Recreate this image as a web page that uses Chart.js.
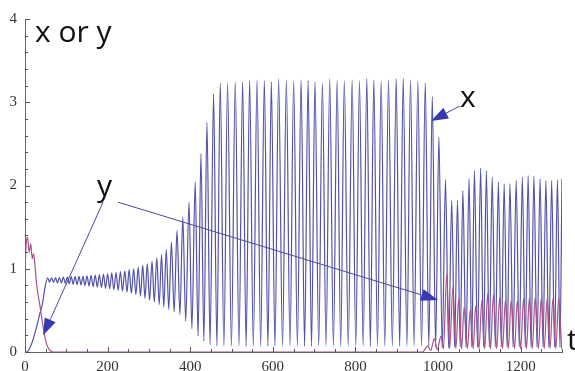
<!DOCTYPE html>
<html lang="en">
<head>
<meta charset="utf-8">
<title>x or y</title>
<script src="https://cdn.jsdelivr.net/npm/chart.js@4.4.1/dist/chart.umd.min.js"></script>
<style>
    html, body { margin: 0; padding: 0; background: #fff; }
    canvas { display: block; }
</style>
</head>
<body>
<canvas id="grafico" width="575" height="371"></canvas>
<script>
// Série x: instantes e valores dos picos e vales
const xTimes = [
    0, 4, 16, 28, 36, 43, 48.5,
    55, 59.5, 64.5, 69, 74, 78.5, 83.5, 88, 93, 97.5,
    102.5, 107, 112, 116.5, 121.5, 126, 131, 135.5, 140.5, 145,
    150, 155, 160, 165, 170, 175, 180, 185, 190, 195,
    200, 205, 210, 215, 220.5, 225.5, 231, 236, 241.5, 247,
    252, 257.5, 263, 268.5, 274, 279.5, 285, 290.5, 296, 301.5,
    307.5, 313, 319, 325, 330.5, 336, 342, 348, 354.5, 361,
    368, 375, 382, 389, 397, 404, 412, 419, 426, 433,
    440.5, 448, 456.5, 464.5, 472.7, 481.5, 490.4, 499.7, 509, 518,
    526.8, 535.3, 543.8, 552.7, 561.7, 570.5, 579.4, 588, 596.4, 605,
    614, 623.4, 632.7, 641.5, 650.4, 659.4, 668.4, 676.8, 685.3, 693.6,
    702, 711, 720, 728.8, 737.7, 746.6, 755.6, 764.3, 773, 782.5,
    792, 800.8, 809.7, 818.6, 827.5, 836, 844.4, 853.3, 862.2, 871,
    880, 889.3, 898.6, 907, 915.6, 924.5, 933.3, 942, 951, 960,
    969, 977.5, 986, 994, 1002, 1010, 1018, 1025.5, 1033, 1040,
    1047, 1053.5, 1060, 1067.5, 1075, 1081.5, 1088, 1095.5, 1103, 1110,
    1117, 1124, 1131, 1138.5, 1146, 1153, 1160, 1167, 1174, 1181.5,
    1189, 1196.5, 1204, 1211, 1218, 1225, 1232, 1239.5, 1247, 1254,
    1261, 1268, 1275, 1282, 1289, 1295, 1300
];
const xValues = [
    0, 0, 0.1, 0.3, 0.46, 0.6, 0.78,
    0.89, 0.84, 0.89, 0.835, 0.895, 0.83, 0.895, 0.83, 0.9, 0.825,
    0.9, 0.82, 0.905, 0.815, 0.905, 0.81, 0.91, 0.805, 0.91, 0.8,
    0.915, 0.795, 0.92, 0.785, 0.925, 0.78, 0.93, 0.775, 0.935, 0.765,
    0.94, 0.76, 0.95, 0.75, 0.955, 0.74, 0.965, 0.73, 0.975, 0.72,
    0.99, 0.705, 1.0, 0.69, 1.02, 0.67, 1.04, 0.645, 1.06, 0.62,
    1.09, 0.6, 1.13, 0.57, 1.17, 0.545, 1.23, 0.51, 1.32, 0.48,
    1.46, 0.45, 1.62, 0.37, 1.8, 0.28, 2.04, 0.19, 2.38, 0.13,
    2.76, 0.09, 3.1, 0.075, 3.23, 0.07, 3.23, 0.07, 3.245, 0.07,
    3.245, 0.07, 3.26, 0.07, 3.265, 0.07, 3.26, 0.07, 3.245, 0.07,
    3.285, 0.07, 3.265, 0.07, 3.255, 0.07, 3.265, 0.07, 3.26, 0.07,
    3.245, 0.07, 3.233, 0.07, 3.285, 0.07, 3.265, 0.07, 3.257, 0.07,
    3.27, 0.07, 3.257, 0.07, 3.285, 0.07, 3.27, 0.07, 3.257, 0.07,
    3.265, 0.07, 3.285, 0.07, 3.285, 0.07, 3.265, 0.07, 3.257, 0.07,
    3.233, 0.07, 3.07, 0.06, 2.58, 0.05, 2.07, 0.05, 1.82, 0.06,
    1.82, 0.06, 1.94, 0.06, 2.08, 0.06, 2.18, 0.06, 2.21, 0.06,
    2.18, 0.06, 2.1, 0.06, 2.04, 0.06, 2.02, 0.06, 2.02, 0.06,
    2.06, 0.06, 2.1, 0.06, 2.12, 0.06, 2.11, 0.06, 2.08, 0.06,
    2.06, 0.06, 2.06, 0.06, 2.07, 0.06, 2.08
];

// Série y
const yTimes = [
    0, 3, 6, 10, 14, 17.5, 20.5, 24, 28, 36,
    44, 52, 60, 70, 962, 975, 982, 991, 998, 1007,
    1013, 1021, 1028, 1036, 1043, 1050, 1057, 1063, 1071, 1078,
    1085, 1091, 1099, 1106, 1113, 1120, 1127, 1134, 1142, 1149,
    1156, 1163, 1170, 1177, 1185, 1192, 1200, 1207, 1214, 1221,
    1228, 1235, 1243, 1250, 1257, 1264, 1271, 1278, 1285, 1292,
    1299
];
const yValues = [
    1.0, 1.3, 1.38, 1.2, 1.3, 1.12, 1.18, 1.05, 0.82, 0.56,
    0.3, 0.1, 0.02, 0, 0, 0.07, 0.02, 0.16, 0.03, 0.19,
    0.04, 0.94, 0.04, 0.78, 0.04, 0.64, 0.04, 0.54, 0.04, 0.51,
    0.04, 0.55, 0.04, 0.62, 0.04, 0.7, 0.04, 0.69, 0.04, 0.65,
    0.04, 0.62, 0.04, 0.62, 0.04, 0.62, 0.04, 0.64, 0.04, 0.65,
    0.04, 0.66, 0.04, 0.65, 0.04, 0.64, 0.04, 0.64, 0.04, 0.64,
    0.04
];

// Eixos
const tMax = 1300;
const xTickStep = 50;
const xLabelStep = 200;
const yMax = 4;
const yTickStep = 0.2;

// Rótulos e setas (em coordenadas t, valor)
const textLabels = [
    { text: 'x or y', t: 24, v: 3.72 },
    { text: 'x', t: 1053, v: 2.94 },
    { text: 'y', t: 174, v: 1.87 },
    { text: 't', t: 1312, v: 0.02 }
];
const arrows = [
    { from: [1053, 2.955], to: [983, 2.775] },
    { from: [189, 1.8], to: [44, 0.2] },
    { from: [225, 1.8], to: [1000, 0.625] }
];

// Cores
const xColor = '#5252aa';
const yColor = '#a8538c';
const arrowLine = '#4a4a98';
const arrowHead = '#3838b0';

// Montar pontos {x, y}
function toPoints(times, values) {
    return times.map((t, i) => ({ x: t, y: values[i] }));
}

function isInteger(v) {
    return Math.abs(v - Math.round(v)) < 1e-6;
}

// Desenhar uma seta com ponta cheia
function drawArrow(ctx, x1, y1, x2, y2) {
    const angle = Math.atan2(y2 - y1, x2 - x1);
    const headLen = 17;
    const headHalf = 6;
    const bx = x2 - headLen * Math.cos(angle);
    const by = y2 - headLen * Math.sin(angle);

    ctx.strokeStyle = arrowLine;
    ctx.lineWidth = 1;
    ctx.beginPath();
    ctx.moveTo(x1, y1);
    ctx.lineTo(bx, by);
    ctx.stroke();

    ctx.fillStyle = arrowHead;
    ctx.beginPath();
    ctx.moveTo(x2, y2);
    ctx.lineTo(bx + headHalf * Math.sin(angle), by - headHalf * Math.cos(angle));
    ctx.lineTo(bx - headHalf * Math.sin(angle), by + headHalf * Math.cos(angle));
    ctx.closePath();
    ctx.fill();
}

// Ticks internos, setas e textos
const anotacoes = {
    id: 'anotacoes',
    afterDraw(chart) {
        const ctx = chart.ctx;
        const xs = chart.scales.x;
        const ys = chart.scales.y;
        const area = chart.chartArea;

        ctx.save();
        ctx.strokeStyle = '#555';
        ctx.lineWidth = 1;
        ctx.beginPath();
        xs.ticks.forEach(tick => {
            const px = Math.round(xs.getPixelForValue(tick.value)) + 0.5;
            const len = tick.value % xLabelStep === 0 ? 5 : 3;
            ctx.moveTo(px, area.bottom);
            ctx.lineTo(px, area.bottom - len);
        });
        ys.ticks.forEach(tick => {
            const py = Math.round(ys.getPixelForValue(tick.value)) + 0.5;
            const len = isInteger(tick.value) ? 5 : 3;
            ctx.moveTo(area.left, py);
            ctx.lineTo(area.left + len, py);
        });
        ctx.stroke();

        arrows.forEach(a => {
            drawArrow(ctx,
                xs.getPixelForValue(a.from[0]), ys.getPixelForValue(a.from[1]),
                xs.getPixelForValue(a.to[0]), ys.getPixelForValue(a.to[1]));
        });

        ctx.fillStyle = '#111';
        ctx.font = '30px "Open Sans", sans-serif';
        ctx.textAlign = 'left';
        ctx.textBaseline = 'alphabetic';
        textLabels.forEach(l => {
            ctx.fillText(l.text, xs.getPixelForValue(l.t), ys.getPixelForValue(l.v));
        });
        ctx.restore();
    }
};

const tickFont = { family: '"Liberation Serif", "Times New Roman", serif', size: 15 };

const grafico = new Chart(document.getElementById('grafico'), {
    type: 'line',
    data: {
        datasets: [
            {
                label: 'x',
                data: toPoints(xTimes, xValues),
                borderColor: xColor,
                borderWidth: 1.2,
                pointRadius: 0,
                cubicInterpolationMode: 'monotone',
                fill: false,
                order: 2
            },
            {
                label: 'y',
                data: toPoints(yTimes, yValues),
                borderColor: yColor,
                borderWidth: 1.2,
                pointRadius: 0,
                cubicInterpolationMode: 'monotone',
                fill: false,
                order: 1
            }
        ]
    },
    options: {
        responsive: false,
        animation: false,
        events: [],
        layout: { padding: { top: 19, right: 13, left: 0, bottom: 0 } },
        plugins: {
            legend: { display: false },
            tooltip: { enabled: false }
        },
        scales: {
            x: {
                type: 'linear',
                min: 0,
                max: tMax,
                z: 1,
                afterFit: scale => { scale.height = 19; },
                grid: { display: false, drawTicks: false },
                border: { display: true, color: '#666', width: 1 },
                ticks: {
                    stepSize: xTickStep,
                    autoSkip: false,
                    maxRotation: 0,
                    padding: 6,
                    color: '#333',
                    font: tickFont,
                    callback: v => (v % xLabelStep === 0 ? String(v) : '')
                }
            },
            y: {
                type: 'linear',
                min: 0,
                max: yMax,
                z: 1,
                afterFit: scale => { scale.width = 25; },
                grid: { display: false, drawTicks: false },
                border: { display: true, color: '#666', width: 1 },
                ticks: {
                    stepSize: yTickStep,
                    autoSkip: false,
                    padding: 8,
                    color: '#333',
                    font: tickFont,
                    callback: v => (isInteger(v) ? String(Math.round(v)) : '')
                }
            }
        }
    },
    plugins: [anotacoes]
});
</script>
</body>
</html>
